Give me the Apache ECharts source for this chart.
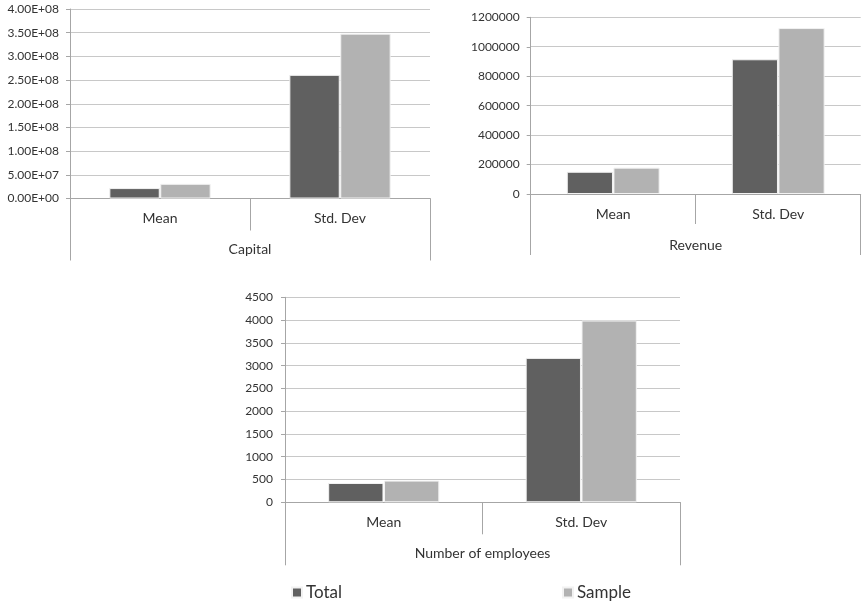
<!DOCTYPE html>
<html>
<head>
<meta charset="utf-8">
<script src="https://cdn.jsdelivr.net/npm/echarts@6/dist/echarts.min.js"></script>
<style>html,body{margin:0;padding:0;background:#fff}#c{width:863px;height:602px}</style>
</head>
<body>
<div id="c"></div>
<script>
var categories = ['Mean', 'Std. Dev'];
var seriesNames = ['Total', 'Sample'];
var capitalTotal = [2.2e7, 2.61e8];
var capitalSample = [3.1e7, 3.48e8];
var revenueTotal = [151000, 915000];
var revenueSample = [179000, 1127000];
var employeesTotal = [424, 3170];
var employeesSample = [476, 3990];
var groupTitles = ['Capital', 'Revenue', 'Number of employees'];

var FONT = 'Lato, "Open Sans", sans-serif';
var TXT = '#333333';
var C_TOTAL = '#606060';
var C_SAMPLE = '#b2b2b2';

function sci(v) {
  if (v === 0) return '0.00E+00';
  var e = Math.floor(Math.log10(Math.abs(v)));
  var m = v / Math.pow(10, e);
  if (Math.abs(m) >= 9.995) { m /= 10; e += 1; }
  var es = (e < 0 ? '-' : '+') + (Math.abs(e) < 10 ? '0' : '') + Math.abs(e);
  return m.toFixed(2) + 'E' + es;
}

var grids = [
  {left: 70, top: 9, width: 360, height: 189.5},
  {left: 530.7, top: 17.3, width: 330, height: 176.7},
  {left: 285, top: 297.3, width: 395, height: 205}
];
var yCfg = [
  {max: 4e8, interval: 5e7, fmt: sci, margin: 11},
  {max: 1200000, interval: 200000, fmt: function (v) { return String(v); }, margin: 11},
  {max: 4500, interval: 500, fmt: function (v) { return String(v); }, margin: 12}
];
var tickLens = [[32, 62], [30, 61], [32, 63]];
var data = [[capitalTotal, capitalSample], [revenueTotal, revenueSample], [employeesTotal, employeesSample]];

var xAxes = [], yAxes = [], series = [];
for (var i = 0; i < 3; i++) {
  xAxes.push({
    type: 'category', gridIndex: i, data: categories, position: 'bottom',
    axisLine: {lineStyle: {color: '#a6a6a6', width: 1}},
    axisTick: {show: true, interval: 0, length: tickLens[i][0], lineStyle: {color: '#a6a6a6'}},
    axisLabel: {color: TXT, fontFamily: FONT, fontSize: 14, margin: 13},
    splitLine: {show: false}
  });
  xAxes.push({
    type: 'category', gridIndex: i, data: [groupTitles[i]], position: 'bottom',
    axisLine: {show: false},
    axisTick: {show: true, interval: 0, length: tickLens[i][1], lineStyle: {color: '#a6a6a6'}},
    axisLabel: {color: TXT, fontFamily: FONT, fontSize: 14, margin: 44},
    splitLine: {show: false}
  });
  yAxes.push({
    type: 'value', gridIndex: i, min: 0, max: yCfg[i].max, interval: yCfg[i].interval,
    axisLine: {show: true, lineStyle: {color: '#a6a6a6'}},
    axisTick: {show: true, length: 4, lineStyle: {color: '#a6a6a6'}},
    axisLabel: {color: TXT, fontFamily: FONT, fontSize: 12, margin: yCfg[i].margin, formatter: yCfg[i].fmt},
    splitLine: {show: true, lineStyle: {color: '#c8c8c8', width: 1}}
  });
  for (var s = 0; s < 2; s++) {
    series.push({
      name: seriesNames[s], type: 'bar', xAxisIndex: i * 2, yAxisIndex: i,
      data: data[i][s], barWidth: '28%', barGap: '1%',
      itemStyle: {color: s === 0 ? C_TOTAL : C_SAMPLE, borderColor: '#f2f2f2', borderWidth: 1},
      silent: true, animation: false
    });
  }
}

var chart = echarts.init(document.getElementById('c'), null, {renderer: 'canvas'});
chart.setOption({
  backgroundColor: '#fff',
  animation: false,
  grid: grids,
  xAxis: xAxes,
  yAxis: yAxes,
  legend: [
    {data: ['Total'], left: 291, top: 584, padding: 0, icon: 'rect', itemWidth: 10, itemHeight: 10, itemGap: 4,
     textStyle: {color: TXT, fontFamily: FONT, fontSize: 17, padding: [0, 0, 0, -1]}, selectedMode: false},
    {data: ['Sample'], left: 562, top: 584, padding: 0, icon: 'rect', itemWidth: 10, itemHeight: 10, itemGap: 4,
     textStyle: {color: TXT, fontFamily: FONT, fontSize: 17, padding: [0, 0, 0, -1]}, selectedMode: false}
  ],
  series: series
});
</script>
</body>
</html>
